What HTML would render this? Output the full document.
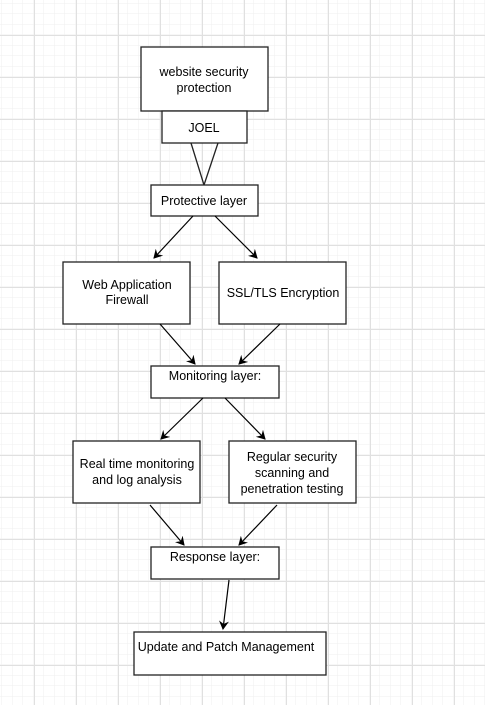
<!DOCTYPE html>
<html><head><meta charset="utf-8"><style>
html,body{margin:0;padding:0;background:#fff}
svg{display:block}
text{font-family:"Liberation Sans",Arial,sans-serif;font-size:12.5px;fill:#000}
</style></head><body>
<svg width="485" height="705" viewBox="0 0 485 705" xmlns="http://www.w3.org/2000/svg">
<defs>
<pattern id="minor" x="2" y="3.5" width="10.5" height="10.5" patternUnits="userSpaceOnUse">
<path d="M10.5 0V10.5M0 10.5H10.5" fill="none" stroke="#efefef" stroke-width="1"/>
</pattern>
<pattern id="major" x="34" y="35" width="42" height="42" patternUnits="userSpaceOnUse">
<path d="M0.5 0V42M0 0.5H42" fill="none" stroke="#e0e0e0" stroke-width="1"/>
</pattern>
<marker id="ar" markerWidth="10" markerHeight="10" refX="8" refY="5" orient="auto" markerUnits="userSpaceOnUse">
<path d="M0 0L9 5L0 10L3 5Z" fill="#000"/>
</marker>
</defs>
<rect width="485" height="705" fill="url(#minor)"/>
<rect width="485" height="705" fill="url(#major)"/>
<g fill="#fff" stroke="#222" stroke-width="1.3">
<rect x="141" y="47" width="127" height="64"/>
<rect x="162" y="111" width="85" height="32"/>
<path d="M191 143L204 185L218 143" fill="none"/>
<rect x="151" y="185" width="107" height="31"/>
<rect x="63" y="262" width="127" height="62"/>
<rect x="219" y="262" width="127" height="62"/>
<rect x="151" y="366" width="128" height="32"/>
<rect x="73" y="441" width="127" height="62"/>
<rect x="229" y="441" width="127" height="62"/>
<rect x="151" y="547" width="128" height="32"/>
<rect x="134" y="632" width="192" height="43"/>
</g>
<g stroke="#000" stroke-width="1.2" marker-end="url(#ar)">
<line x1="193" y1="216" x2="154" y2="258"/>
<line x1="215" y1="216" x2="257" y2="258"/>
<line x1="160" y1="324" x2="195" y2="364"/>
<line x1="280" y1="324" x2="239" y2="364"/>
<line x1="203" y1="398" x2="161" y2="439"/>
<line x1="225" y1="398" x2="265" y2="439"/>
<line x1="150" y1="505" x2="184" y2="545"/>
<line x1="277" y1="505" x2="239" y2="545"/>
<line x1="229" y1="580" x2="223" y2="629"/>
</g>
<g text-anchor="middle">
<text x="204" y="76">website security</text>
<text x="204" y="92">protection</text>
<text x="204" y="132">JOEL</text>
<text x="204" y="205">Protective layer</text>
<text x="127" y="289">Web Application</text>
<text x="127" y="304">Firewall</text>
<text x="283" y="297">SSL/TLS Encryption</text>
<text x="215" y="380">Monitoring layer:</text>
<text x="137" y="468">Real time monitoring</text>
<text x="137" y="484">and log analysis</text>
<text x="292" y="461">Regular security</text>
<text x="292" y="477">scanning and</text>
<text x="292" y="493">penetration testing</text>
<text x="215" y="561">Response layer:</text>
<text x="226" y="651">Update and Patch Management</text>
</g>
</svg>
</body></html>
